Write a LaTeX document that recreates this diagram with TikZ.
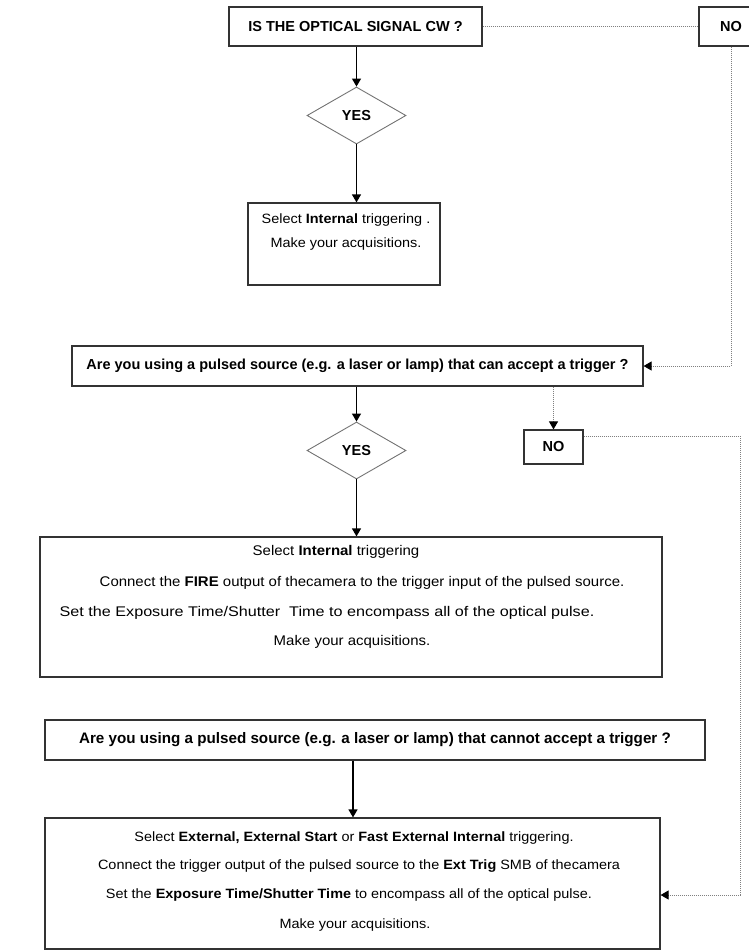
\documentclass[tikz,border=0pt]{standalone}
\usepackage{fontspec}
\setmainfont{Liberation Sans}
\newfontfamily\regf{Liberation Sans}[FakeStretch=1.07]
\usetikzlibrary{arrows.meta,shapes.geometric,calc}
\begin{document}
\begin{tikzpicture}[x=1pt,y=-1pt,
  box/.style={draw=black!80,line width=1.2pt,rectangle,inner sep=0pt},
  dia/.style={draw=black!55,line width=0.9pt,diamond,inner sep=0pt,minimum width=99pt,minimum height=57pt},
  bq/.style={font=\fontsize{14.5}{17}\selectfont\bfseries},
  bqbig/.style={font=\fontsize{15.2}{18}\selectfont\bfseries},
  rt/.style={font=\regf\fontsize{13.5}{16}\selectfont,inner sep=0pt},
  rtw/.style={font=\regf\fontsize{14}{16}\selectfont,inner sep=0pt},
  arr/.style={line width=1.2pt,-{Triangle[length=8pt,width=9pt]}},
  dot/.style={draw=black!50,line width=1pt,dash pattern=on 1pt off 1pt},
  dotarr/.style={dot,-{Triangle[length=8pt,width=9pt,color=black,fill=black]}}
]
\useasboundingbox (0,0) rectangle (748,951);

% top question
\node[box,minimum width=253pt,minimum height=39pt,bq] (q1) at (355.5,26.5) {IS THE OPTICAL SIGNAL CW ?};
\node[box,minimum width=64pt,minimum height=39pt,bq] (no1) at (731,26.5) {NO};
\node[dia,bq] (d1) at (356.5,115.5) {YES};
\node[box,minimum width=192pt,minimum height=82pt] (b1) at (344,244) {};
\node[rt] (b1a) at (346,220) {Select \textbf{Internal} triggering .};
\node[rt] (b1b) at (346,244) {Make your acquisitions.};

% second question
\node[box,minimum width=571pt,minimum height=40pt,bq] (q2) at (357.5,366) {Are you using a pulsed source (e.g. a laser or lamp) that can accept a trigger ?};
\node[dia,bq] (d2) at (356.5,450.5) {YES};
\node[box,minimum width=59pt,minimum height=34pt,bq] (no2) at (553.5,447) {NO};

\node[box,minimum width=622pt,minimum height=140pt] (b3) at (351,607) {};
\node[rtw] (b3a) at (336,552) {Select \textbf{Internal} triggering};
\node[rtw] (b3b) at (362,583) {Connect the \textbf{FIRE} output of thecamera to the trigger input of the pulsed source.};
\node[rtw] (b3c) at (327,613) {\scalebox{1.08}[1]{Set the Exposure Time/Shutter\ \ Time to encompass all of the optical pulse.}};
\node[rtw] (b3d) at (352,642) {Make your acquisitions.};

% third question
\node[box,minimum width=660pt,minimum height=40pt,bqbig] (q3) at (375,740) {Are you using a pulsed source (e.g. a laser or lamp) that cannot accept a trigger ?};
\node[box,minimum width=615pt,minimum height=131pt] (b5) at (352.5,883.5) {};
\node[rt] (b5a) at (354,838) {Select \textbf{External, External Start} or \textbf{Fast External Internal} triggering.};
\node[rt] (b5b) at (359,866) {Connect the trigger output of the pulsed source to the \textbf{Ext Trig} SMB of thecamera};
\node[rt] (b5c) at (349,895) {Set the \textbf{Exposure Time/Shutter Time} to encompass all of the optical pulse.};
\node[rt] (b5d) at (355,925) {Make your acquisitions.};

\coordinate (k1) at (740,895);
\coordinate (k2) at (353,0);

% connectors
\draw[arr] (d1.north |- q1.south) -- (d1.north);
\draw[arr] (d1.south) -- (d1.south |- b1.north);
\draw[dot] (q1.east) -- (no1.west);
\draw[dotarr] (no1.south) |- (q2.east);
\draw[arr] (d2.north |- q2.south) -- (d2.north);
\draw[arr] (d2.south) -- (d2.south |- b3.north);
\draw[dotarr] (no2.north |- q2.south) -- (no2.north);
\draw[dotarr] ([yshift=-7pt]no2.north east) -| (k1) -- (k1 -| b5.east);
\draw[arr] (k2 |- q3.south) -- (k2 |- b5.north);
\end{tikzpicture}
\end{document}
